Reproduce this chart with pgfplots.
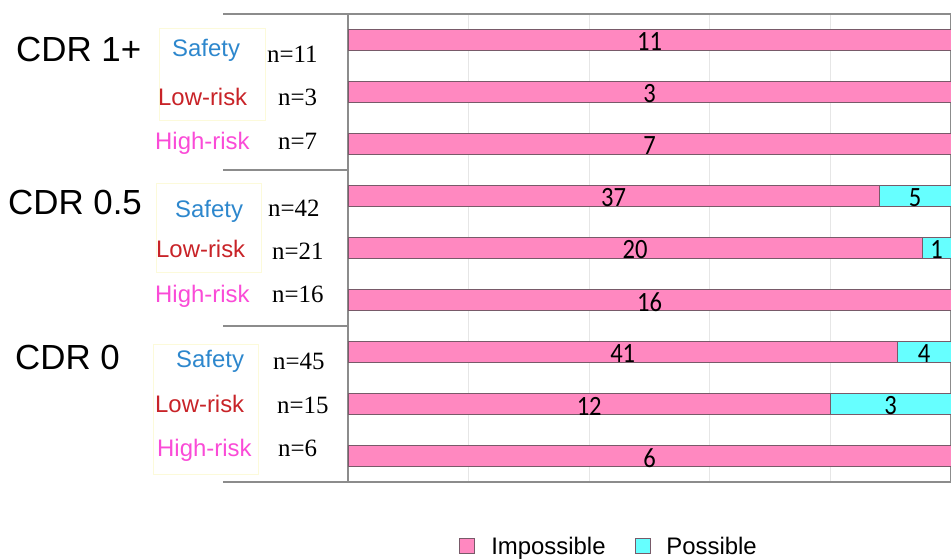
\documentclass[border=0pt]{standalone}
\usepackage{pgfplots}
\pgfplotsset{compat=1.18}
\usepackage{pgfplotstable}
\usepackage{graphicx}
\usepackage{fontspec}
\setmainfont{Liberation Sans}
\newfontfamily\timesf{Liberation Serif}
\newfontfamily\carlito{Carlito}
\definecolor{pinkbar}{RGB}{255,136,192}
\definecolor{cyanbar}{RGB}{102,255,255}
\definecolor{axgray}{RGB}{140,140,140}
\definecolor{gridgray}{RGB}{230,230,230}
\definecolor{edgegray}{RGB}{120,90,105}
\definecolor{safetyblue}{RGB}{45,135,205}
\definecolor{lowred}{RGB}{200,35,40}
\definecolor{highpink}{RGB}{250,75,215}
\definecolor{boxyellow}{RGB}{252,250,218}

\pgfplotstableread{
row imp pos impPct posPct
0 11 0 100 0
1 3 0 100 0
2 7 0 100 0
3 37 5 88.10 11.90
4 20 1 95.24 4.76
5 16 0 100 0
6 41 4 91.11 8.89
7 12 3 80 20
8 6 0 100 0
}\datatable

\newcommand{\lblfont}{\carlito\fontsize{28}{28}\selectfont}

\begin{document}
\begin{tikzpicture}[x=1bp,y=1bp]
\useasboundingbox (0,0) rectangle (951,560);
\clip (0,0) rectangle (951,560);
\begin{axis}[
  at={(348bp,78bp)}, anchor=south west,
  width=603bp, height=468bp, scale only axis,
  xbar stacked, bar width=21bp,
  xmin=0, xmax=100, ymin=-0.5, ymax=8.5, y dir=reverse,
  xtick={0,20,...,100}, xticklabels={}, ytick=\empty,
  xmajorgrids, major grid style={gridgray, line width=1bp},
  axis line style={axgray, line width=1.3bp},
  tick style={draw=none},
  /pgf/number format/assume math mode=true,
  point meta=explicit,
  nodes near coords={\scalebox{0.88}[1]{\pgfmathprintnumber{\pgfplotspointmeta}}},
  every node near coord/.append style={font=\lblfont, text=black, inner sep=0pt, anchor=center, yshift=-2bp},
  legend style={at={(axis description cs:0.433,-0.137)}, anchor=center, draw=none, fill=none,
    legend columns=2, font=\fontsize{24}{28}\selectfont,
    /tikz/every odd column/.append style={column sep=14bp},
    /tikz/every even column/.append style={column sep=27bp}},
  legend image code/.code={\draw[#1, draw=edgegray, line width=0.8bp] (0bp,-7.5bp) rectangle (15bp,7.5bp);},
]
\addplot[fill=pinkbar, draw=edgegray, line width=0.8bp] table[x=impPct, y=row, meta=imp] \datatable;
\addplot[fill=cyanbar, draw=edgegray, line width=0.8bp] table[x=posPct, y=row, meta=pos] \datatable;
\legend{Impossible, Possible}
% labels of the zero-width "Possible" segments at the right end
\node[font=\lblfont, inner sep=0pt, anchor=center, yshift=-2bp] at (axis cs:100,0) {\scalebox{0.88}[1]{0}};
\node[font=\lblfont, inner sep=0pt, anchor=center, yshift=-2bp] at (axis cs:100,1) {\scalebox{0.88}[1]{0}};
\node[font=\lblfont, inner sep=0pt, anchor=center, yshift=-2bp] at (axis cs:100,2) {\scalebox{0.88}[1]{0}};
\node[font=\lblfont, inner sep=0pt, anchor=center, yshift=-2bp] at (axis cs:100,5) {\scalebox{0.88}[1]{0}};
\node[font=\lblfont, inner sep=0pt, anchor=center, yshift=-2bp] at (axis cs:100,8) {\scalebox{0.88}[1]{0}};
\end{axis}
% separator lines on the left
\draw[axgray, line width=1.3bp] (223,546) -- (348,546);
\draw[axgray, line width=1.3bp] (223,390) -- (348,390);
\draw[axgray, line width=1.3bp] (223,234) -- (348,234);
\draw[axgray, line width=1.3bp] (223,78) -- (348,78);
% faint yellow boxes
\draw[boxyellow, line width=0.8bp] (159,532) rectangle (265,440);
\draw[boxyellow, line width=0.8bp] (156,377) rectangle (261,288);
\draw[boxyellow, line width=0.8bp] (153,216) rectangle (258,86);
% group labels
\node[anchor=base west, inner sep=0pt, font=\fontsize{35}{40}\selectfont] at (16,498) {CDR 1+};
\node[anchor=base west, inner sep=0pt, font=\fontsize{35}{40}\selectfont] at (8,345) {CDR 0.5};
\node[anchor=base west, inner sep=0pt, font=\fontsize{35}{40}\selectfont] at (15,190) {CDR 0};
% category labels
\begin{scope}[every node/.style={anchor=base west, inner sep=0pt, font=\fontsize{24}{28}\selectfont}]
\node[text=safetyblue] at (172,503) {Safety};
\node[text=lowred] at (158,454) {Low-risk};
\node[text=highpink] at (155,410) {High-risk};
\node[text=safetyblue] at (175,342) {Safety};
\node[text=lowred] at (156,302) {Low-risk};
\node[text=highpink] at (155,257) {High-risk};
\node[text=safetyblue] at (176,192) {Safety};
\node[text=lowred] at (155,147) {Low-risk};
\node[text=highpink] at (157,103) {High-risk};
\end{scope}
% n labels
\begin{scope}[every node/.style={anchor=base west, inner sep=0pt, font=\timesf\fontsize{25}{28}\selectfont}]
\node at (267,497) {n=11};
\node at (278,454) {n=3};
\node at (278,410) {n=7};
\node at (268,343) {n=42};
\node at (272,300) {n=21};
\node at (272,257) {n=16};
\node at (273,190) {n=45};
\node at (277,146) {n=15};
\node at (278,103) {n=6};
\end{scope}
\end{tikzpicture}
\end{document}
